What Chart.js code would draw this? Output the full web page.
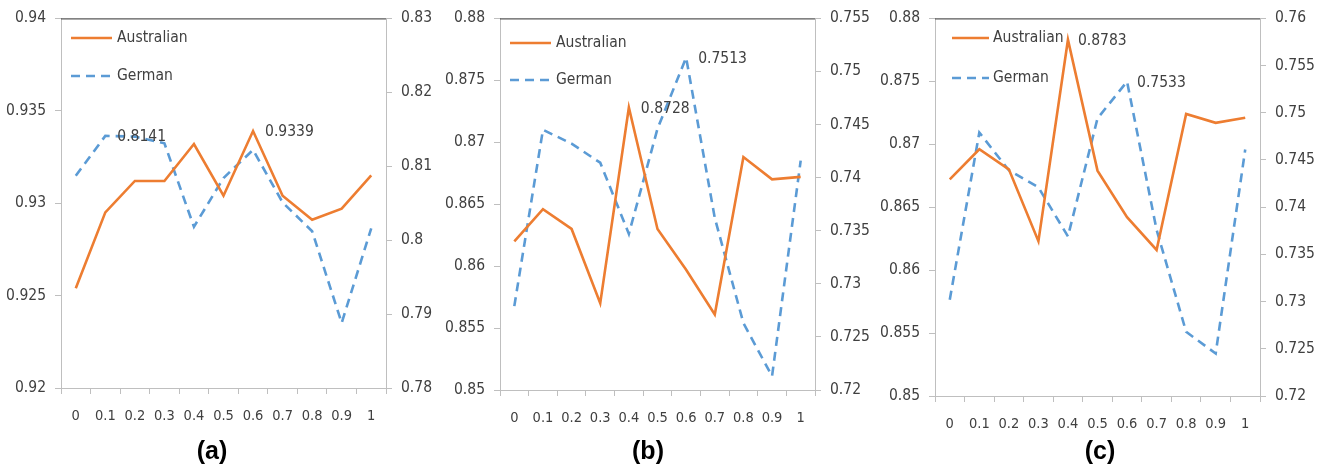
<!DOCTYPE html>
<html>
<head>
<meta charset="utf-8">
<script src="https://cdn.jsdelivr.net/npm/chart.js@4/dist/chart.umd.min.js"></script>
<style>
  html, body { margin: 0; padding: 0; background: #ffffff; }
  body { width: 1318px; height: 467px; position: relative; overflow: hidden; }
  canvas { position: absolute; left: 0; top: 0; }
  .cap { position: absolute; top: 436px; font-family: "Liberation Sans", Arial, sans-serif; font-weight: bold; font-size: 25px; color: #000; transform: translateX(-50%); }
</style>
</head>
<body>
<canvas id="ca" width="1318" height="440"></canvas>
<canvas id="cb" width="1318" height="440"></canvas>
<canvas id="cc" width="1318" height="440"></canvas>
<div class="cap" style="left:212px">(a)</div>
<div class="cap" style="left:648px">(b)</div>
<div class="cap" style="left:1100px">(c)</div>
<script>
// ---------- data ----------
const xLabels = ['0', '0.1', '0.2', '0.3', '0.4', '0.5', '0.6', '0.7', '0.8', '0.9', '1'];
const seriesNames = ['Australian', 'German'];

const australianA = [0.9254, 0.9295, 0.9312, 0.9312, 0.9332, 0.9304, 0.9339, 0.9304, 0.9291, 0.9297, 0.9315];
const germanA     = [0.8087, 0.8141, 0.8140, 0.8131, 0.8018, 0.8084, 0.8122, 0.8051, 0.8012, 0.7888, 0.8016];

const australianB = [0.8620, 0.8646, 0.8630, 0.8570, 0.8728, 0.8630, 0.8597, 0.8561, 0.8688, 0.8670, 0.8672];
const germanB     = [0.7279, 0.7445, 0.7432, 0.7414, 0.7347, 0.7446, 0.7513, 0.7362, 0.7263, 0.7213, 0.7416];

const australianC = [0.8672, 0.8696, 0.8680, 0.8623, 0.8783, 0.8679, 0.8642, 0.8616, 0.8724, 0.8717, 0.8721];
const germanC     = [0.7302, 0.7479, 0.7439, 0.7421, 0.7369, 0.7494, 0.7533, 0.7376, 0.7268, 0.7245, 0.7461];

const leftTicksA  = [0.92, 0.925, 0.93, 0.935, 0.94];
const rightTicksA = [0.78, 0.79, 0.80, 0.81, 0.82, 0.83];
const leftTicksB  = [0.85, 0.855, 0.86, 0.865, 0.87, 0.875, 0.88];
const rightTicksB = [0.72, 0.725, 0.73, 0.735, 0.74, 0.745, 0.75, 0.755];
const leftTicksC  = [0.85, 0.855, 0.86, 0.865, 0.87, 0.875, 0.88];
const rightTicksC = [0.72, 0.725, 0.73, 0.735, 0.74, 0.745, 0.75, 0.755, 0.76];

// annotated points: [series index, point index]
const labelledA = [[1, 1], [0, 6]];
const labelledB = [[0, 4], [1, 6]];
const labelledC = [[0, 4], [1, 6]];

// ---------- styling ----------
const FONT = '"DejaVu Sans Condensed", "Liberation Sans Narrow", "Open Sans", sans-serif';
const TEXT = '#404040';
const AXIS = '#bfbfbf';
const ORANGE = '#ED7D31';
const BLUE = '#5B9BD5';
const CW = 1318, CH = 440, LEFTW = 61, RIGHTW = 55;

function fmt(v) { return String(Number(v.toFixed(4))); }

const extras = {
  id: 'extras',
  afterDatasetsDraw(chart, args, o) {
    const ctx = chart.ctx, ca = chart.chartArea;
    ctx.save();
    // dark top border
    ctx.strokeStyle = '#595959';
    ctx.lineWidth = 1.3;
    ctx.setLineDash([]);
    ctx.beginPath();
    ctx.moveTo(ca.left, ca.top + 0.5);
    ctx.lineTo(ca.right, ca.top + 0.5);
    ctx.stroke();
    // legend
    ctx.font = '15.5px ' + FONT;
    ctx.fillStyle = TEXT;
    ctx.textBaseline = 'middle';
    ctx.textAlign = 'left';
    chart.data.datasets.forEach((ds, i) => {
      const y = o.legendY[i];
      ctx.strokeStyle = ds.borderColor;
      ctx.lineWidth = ds.borderWidth;
      ctx.setLineDash(ds.borderDash || []);
      ctx.beginPath();
      ctx.moveTo(o.legendX0, y);
      ctx.lineTo(o.legendX1, y);
      ctx.stroke();
      ctx.fillText(ds.label, o.legendTextX, y);
    });
    // data labels
    ctx.setLineDash([]);
    o.labels.forEach(([d, i]) => {
      const el = chart.getDatasetMeta(d).data[i];
      ctx.fillText(fmt(chart.data.datasets[d].data[i]), el.x + o.labelDx, el.y + 1);
    });
    ctx.restore();
  }
};

function yAxis(ticks, position, width) {
  return {
    type: 'linear',
    position: position,
    min: ticks[0],
    max: ticks[ticks.length - 1],
    afterBuildTicks(scale) { scale.ticks = ticks.map(v => ({ value: v })); },
    afterFit(scale) { scale.width = width; },
    grid: { drawOnChartArea: false, tickLength: 6, color: AXIS, lineWidth: 1 },
    border: { color: AXIS, width: 1 },
    ticks: {
      padding: 9,
      color: TEXT,
      font: { family: FONT, size: 15.5 },
      callback: v => String(Number(Number(v).toFixed(4)))
    }
  };
}

function makeChart(id, aus, ger, lt, rt, geom, labelled) {
  new Chart(document.getElementById(id), {
    type: 'line',
    data: {
      labels: xLabels,
      datasets: [
        { label: seriesNames[0], data: aus, yAxisID: 'yL', borderColor: ORANGE, backgroundColor: ORANGE, borderWidth: 2.6, pointRadius: 0, tension: 0, fill: false },
        { label: seriesNames[1], data: ger, yAxisID: 'yR', borderColor: BLUE, backgroundColor: BLUE, borderWidth: 2.6, borderDash: [9, 6], pointRadius: 0, tension: 0, fill: false }
      ]
    },
    options: {
      responsive: false,
      animation: false,
      events: [],
      layout: { padding: { top: geom.top, left: geom.left - LEFTW, right: CW - geom.right - RIGHTW, bottom: 0 } },
      plugins: {
        legend: { display: false },
        tooltip: { enabled: false },
        extras: {
          legendX0: geom.lx0, legendX1: geom.lx1, legendTextX: geom.ltx, legendY: geom.ly,
          labels: labelled, labelDx: geom.ldx
        }
      },
      scales: {
        x: {
          type: 'category',
          offset: true,
          afterFit(scale) { scale.height = CH - geom.bottom; },
          grid: { offset: true, drawOnChartArea: false, tickLength: 6, color: AXIS },
          border: { color: AXIS },
          ticks: { padding: 14, autoSkip: false, maxRotation: 0, color: TEXT, font: { family: FONT, size: 14.5 } }
        },
        yL: yAxis(lt, 'left', LEFTW),
        yR: yAxis(rt, 'right', RIGHTW)
      }
    },
    plugins: [extras]
  });
}

makeChart('ca', australianA, germanA, leftTicksA, rightTicksA,
  { left: 61, right: 386, top: 18, bottom: 388, lx0: 71, lx1: 112, ltx: 117, ly: [38, 76], ldx: 12 }, labelledA);
makeChart('cb', australianB, germanB, leftTicksB, rightTicksB,
  { left: 500, right: 815, top: 18, bottom: 390, lx0: 510, lx1: 551, ltx: 556, ly: [43, 80], ldx: 12 }, labelledB);
makeChart('cc', australianC, germanC, leftTicksC, rightTicksC,
  { left: 935, right: 1260, top: 18, bottom: 396, lx0: 952, lx1: 989, ltx: 993, ly: [38, 78], ldx: 10 }, labelledC);
</script>
</body>
</html>
